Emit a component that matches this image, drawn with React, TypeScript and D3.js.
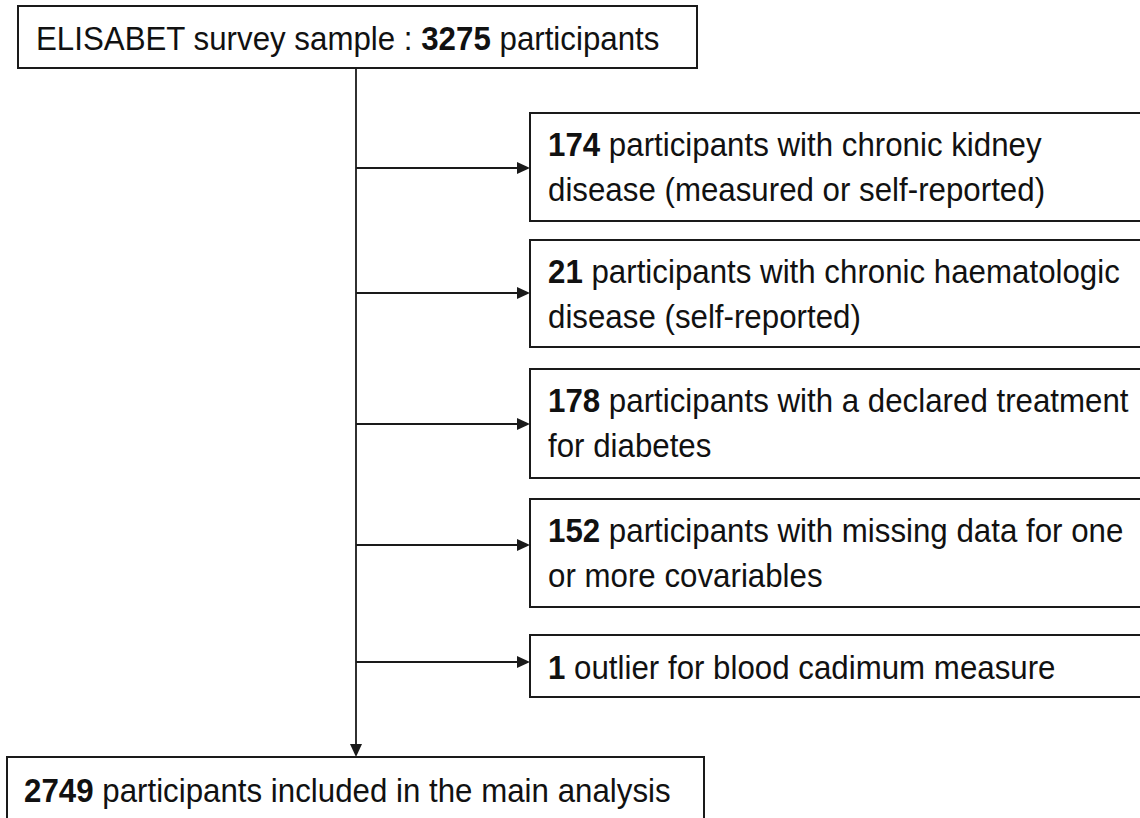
import { useEffect } from "react";
import * as d3 from "d3";

// flow counts
const sampleLabel = "ELISABET survey sample : ";
const sampleTotal = 3275;
const includedTotal = 2749;
const includedLabel = " participants included in the main analysis";

const exclusionCounts = [174, 21, 178, 152, 1];
const exclusionFirstLines = [
  " participants with chronic kidney",
  " participants with chronic haematologic",
  " participants with a declared treatment",
  " participants with missing data for one",
  " outlier for blood cadimum measure",
];
const exclusionSecondLines = [
  "disease (measured or self-reported)",
  "disease (self-reported)",
  "for diabetes",
  "or more covariables",
  "",
];

// layout (px)
const FONT = "'Liberation Sans', Arial, sans-serif";
const FS = 34;
const SX = 0.92;
const STROKE = "#1a1a1a";
const boxTops = [113, 240, 369, 499, 635];
const boxBottoms = [221, 347, 478, 607, 697];
const boxLeft = 530;
const arrowYs = [168, 293, 424, 545, 662];
const spineX = 356;

const Line = ({ x, y, bold, rest }: { x: number; y: number; bold?: string; rest: string }) => (
  <g transform={`translate(${x},${y}) scale(${SX},1)`}>
    <text x={0} y={0} fontFamily={FONT} fontSize={FS} fill="#111">
      {bold && <tspan fontWeight="bold">{bold}</tspan>}
      <tspan>{rest}</tspan>
    </text>
  </g>
);

const arrowHead = (x: number, y: number, dir: "right" | "down") => {
  const p = d3.path();
  if (dir === "right") {
    p.moveTo(x, y);
    p.lineTo(x - 13, y - 6);
    p.lineTo(x - 13, y + 6);
  } else {
    p.moveTo(x, y);
    p.lineTo(x - 6, y - 13);
    p.lineTo(x + 6, y - 13);
  }
  p.closePath();
  return p.toString();
};

export default function App() {
  useEffect(() => {
    document.body.style.margin = "0";
  }, []);

  const topBox = { x: 18, y: 6, w: 679, h: 62 };
  const bottomBox = { x: 7, y: 757, w: 697, h: 80 };

  const spine = d3.path();
  spine.moveTo(spineX, topBox.y + topBox.h);
  spine.lineTo(spineX, bottomBox.y - 10);

  return (
    <svg width={1140} height={818} style={{ display: "block", background: "#fff" }}>
      {/* top box */}
      <rect x={topBox.x} y={topBox.y} width={topBox.w} height={topBox.h} fill="#fff" stroke={STROKE} strokeWidth={2} />
      <g transform={`translate(${topBox.x + 18},${50}) scale(${SX},1)`}>
        <text fontFamily={FONT} fontSize={FS} fill="#111">
          <tspan>{sampleLabel}</tspan>
          <tspan fontWeight="bold">{sampleTotal}</tspan>
          <tspan> participants</tspan>
        </text>
      </g>

      {/* spine */}
      <path d={spine.toString()} stroke={STROKE} strokeWidth={1.8} fill="none" />
      <path d={arrowHead(spineX, bottomBox.y, "down")} fill={STROKE} />

      {exclusionCounts.map((n, i) => {
        const top = boxTops[i];
        const bottom = boxBottoms[i];
        const twoLines = exclusionSecondLines[i] !== "";
        const y1 = twoLines ? top + 43 : top + 44;
        return (
          <g key={i}>
            <line x1={spineX} x2={boxLeft - 10} y1={arrowYs[i]} y2={arrowYs[i]} stroke={STROKE} strokeWidth={1.8} />
            <path d={arrowHead(boxLeft, arrowYs[i], "right")} fill={STROKE} />
            <rect x={boxLeft} y={top} width={1150 - boxLeft} height={bottom - top} fill="#fff" stroke={STROKE} strokeWidth={2} />
            <Line x={boxLeft + 18} y={y1} bold={String(n)} rest={exclusionFirstLines[i]} />
            {twoLines && <Line x={boxLeft + 18} y={top + 88} rest={exclusionSecondLines[i]} />}
          </g>
        );
      })}

      {/* bottom box */}
      <rect x={bottomBox.x} y={bottomBox.y} width={bottomBox.w} height={bottomBox.h} fill="#fff" stroke={STROKE} strokeWidth={2} />
      <Line x={bottomBox.x + 17} y={802} bold={String(includedTotal)} rest={includedLabel} />
    </svg>
  );
}
